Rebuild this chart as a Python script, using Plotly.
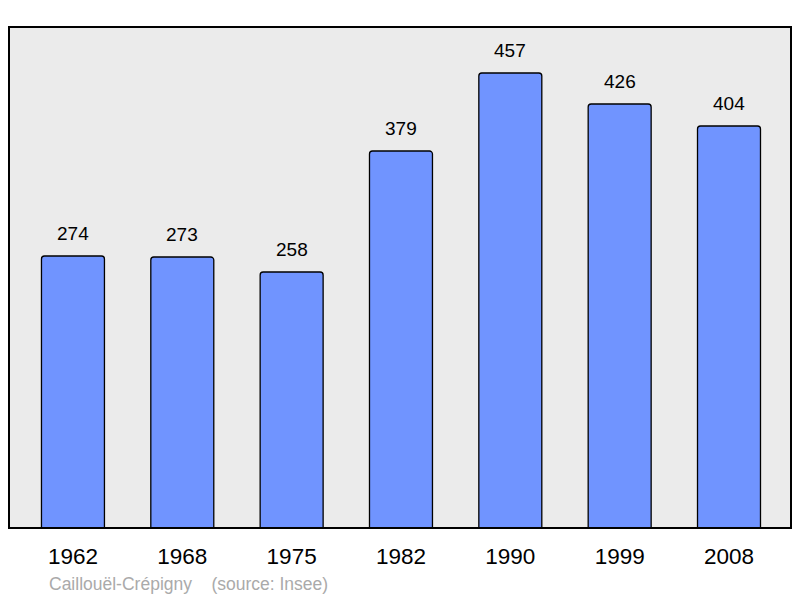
import plotly.graph_objects as go

years = ["1962", "1968", "1975", "1982", "1990", "1999", "2008"]
population = [274, 273, 258, 379, 457, 426, 404]
source_text = "Caillouël-Crépigny    (source: Insee)"

FONT = "Liberation Sans, Arial, sans-serif"

fig = go.Figure()
fig.add_trace(go.Bar(
    x=list(range(len(years))),
    y=population,
    width=0.576,
    marker=dict(color="#7094ff", line=dict(color="black", width=1.3), cornerradius=3),
    hoverinfo="skip",
))

for i, v in enumerate(population):
    fig.add_annotation(x=i, y=v, text=str(v), showarrow=False, yshift=23,
                       yanchor="middle", font=dict(family=FONT, size=19, color="black"))

fig.add_annotation(xref="paper", yref="paper", x=38/782, y=0, xanchor="left",
                   yanchor="middle", yshift=-56, text=source_text, showarrow=False,
                   font=dict(family=FONT, size=17.5, color="#aaaaaa"))

fig.add_shape(type="rect", xref="paper", yref="paper", x0=0, x1=1, y0=0, y1=1,
              line=dict(color="black", width=2), layer="above")

# page body has an 8px margin, so the figure is drawn 8px smaller and offset
fig.update_layout(
    width=792, height=590,
    margin=dict(l=1, r=9, t=19, b=70),
    paper_bgcolor="white",
    plot_bgcolor="#ebebeb",
    showlegend=False,
    xaxis=dict(range=[-0.585, 6.567], tickvals=list(range(len(years))), ticktext=years,
               showgrid=False, zeroline=False, ticks="outside", ticklen=8,
               tickcolor="rgba(0,0,0,0)", tickfont=dict(family=FONT, size=22.5, color="black")),
    yaxis=dict(range=[2, 503], showgrid=False, zeroline=False, showticklabels=False),
)

fig.write_html("out.html")
